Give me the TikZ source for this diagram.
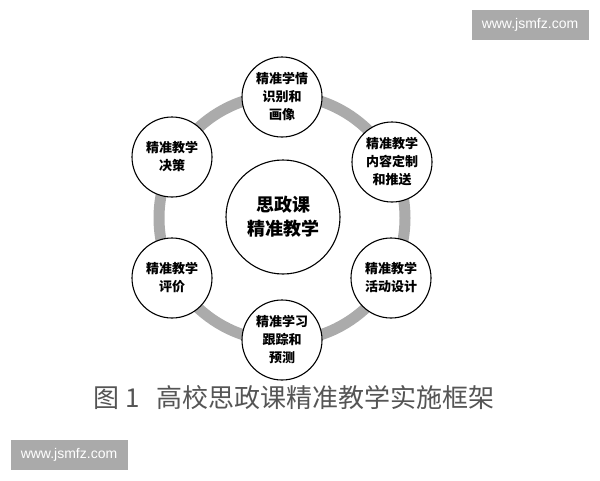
\documentclass[tikz,border=0pt]{standalone}
\usepackage{fontspec}
\setmainfont{Liberation Sans}
\newfontfamily\cjk{Noto Sans CJK SC}
\definecolor{ringgray}{HTML}{ABABAB}
\definecolor{wmgray}{HTML}{AAAAAA}
\definecolor{capgray}{HTML}{555555}
\begin{document}
\begin{tikzpicture}[x=1pt,y=-1pt,
  sub/.style={circle, draw=black, line width=1.1pt, fill=white, minimum size=80pt, inner sep=0pt, align=center,
    font=\cjk\bfseries\fontsize{13}{18}\selectfont},
  hub/.style={circle, draw=black, line width=1.1pt, fill=white, minimum size=114pt, inner sep=0pt, align=center,
    font=\cjk\bfseries\fontsize{18}{24}\selectfont},
  ring/.style={draw=ringgray, line width=11pt},
  wm/.style={fill=wmgray, text=white, minimum width=117pt, minimum height=30pt, inner sep=0pt,
    font=\fontsize{14}{15}\selectfont},
  captext/.style={text=capgray, inner sep=0pt, font=\cjk\fontsize{26}{28}\selectfont}]
\useasboundingbox (0,0) rectangle (600,480);
\fill[white] (0,0) rectangle (600,480);
\coordinate (c) at (282,218);
\draw[ring] (c) circle[radius=123];
\node[hub] (hub) at (283,217) {思政课\\精准教学};
\node[sub] (top) at (282,97) {精准学情\\识别和\\画像};
\node[sub] (ur) at (392,162) {精准教学\\内容定制\\和推送};
\node[sub] (lr) at (391,278) {精准教学\\活动设计};
\node[sub] (bot) at (282,340) {精准学习\\跟踪和\\预测};
\node[sub] (ll) at (172,278) {精准教学\\评价};
\node[sub] (ul) at (172,157) {精准教学\\决策};
\node[captext] (caption) at (294,398) {图\hspace{6pt}1\hspace{16pt}高校思政课精准教学实施框架};
\node[wm] (wm1) at (530,25) {www.jsmfz.com};
\node[wm] (wm2) at (69,455) {www.jsmfz.com};
\end{tikzpicture}
\end{document}
